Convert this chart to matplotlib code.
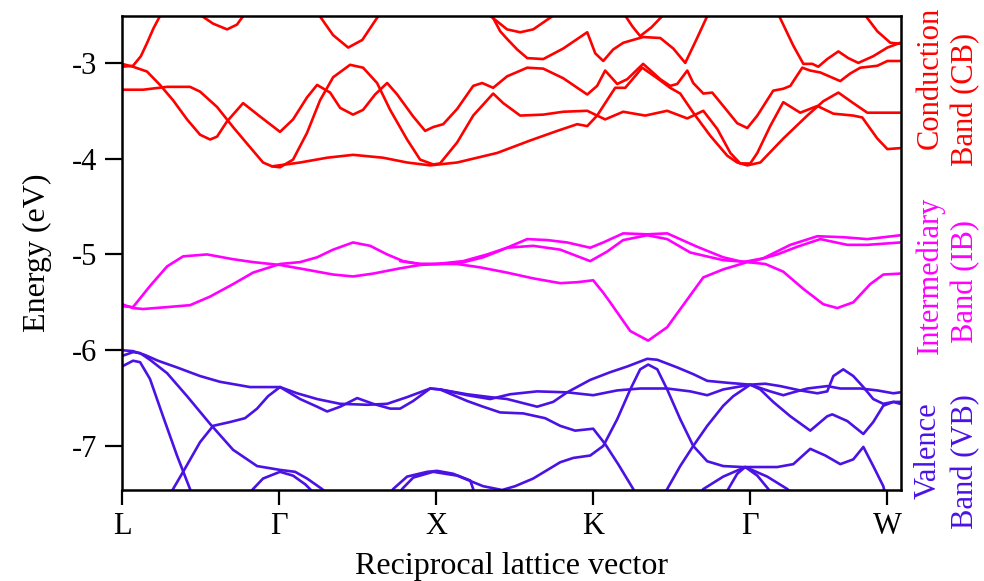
import matplotlib
matplotlib.use("Agg")
import matplotlib.pyplot as plt

plt.rcParams['font.family'] = ['Liberation Serif', 'DejaVu Serif']
plt.rcParams['axes.unicode_minus'] = False

# high-symmetry points along the path
k_ticks = [0, 1, 2, 3, 4, 4.873]
k_labels = ['L', 'Γ', 'X', 'K', 'Γ', 'W']

# ---- conduction band (CB), energies in eV ----
cb_top1_k = [0, 0.07, 0.12, 0.16, 0.2, 0.245]
cb_top1_e = [-3.04, -3.03, -2.93, -2.79, -2.64, -2.5]
cb_top2_k = [0.49, 0.58, 0.669, 0.732, 0.78]
cb_top2_e = [-2.49, -2.59, -2.65, -2.60, -2.49]
cb_top3_k = [1.25, 1.344, 1.44, 1.53, 1.64]
cb_top3_e = [-2.49, -2.71, -2.84, -2.76, -2.49]
cb_top4_k = [2.33, 2.452, 2.535, 2.618, 2.76]
cb_top4_e = [-2.49, -2.65, -2.68, -2.65, -2.49]
cb_top5_k = [2.35, 2.408, 2.452, 2.516, 2.58, 2.682, 2.809, 2.962, 3.013, 3.064,
             3.127, 3.191, 3.318, 3.427, 3.51, 3.586, 3.656, 3.732]
cb_top5_e = [-2.49, -2.67, -2.75, -2.86, -2.95, -2.96, -2.85, -2.68, -2.90, -2.98,
             -2.86, -2.79, -2.73, -2.74, -2.85, -3.0, -2.76, -2.49]
cb_top6_k = [3.197, 3.25, 3.299, 3.37, 3.452]
cb_top6_e = [-2.49, -2.62, -2.72, -2.63, -2.49]
cb_top7_k = [4.178, 4.274, 4.338, 4.395, 4.433, 4.49, 4.561, 4.624, 4.688, 4.783, 4.873, 4.955]
cb_top7_e = [-2.49, -2.82, -3.01, -3.01, -3.04, -2.96, -2.88, -2.95, -3.0, -2.93, -2.84, -2.79]
cb_top8_k = [4.726, 4.809, 4.892, 4.955]
cb_top8_e = [-2.49, -2.67, -2.79, -2.80]

cb_a_k = [0, 0.07, 0.159, 0.242, 0.325, 0.414, 0.497, 0.561, 0.605, 0.669, 0.771, 0.879,
          1.006, 1.089, 1.178, 1.242, 1.325, 1.389, 1.471, 1.535, 1.611, 1.688, 1.752,
          1.854, 1.930, 1.981, 2.045, 2.134, 2.236, 2.293, 2.363, 2.452, 2.580, 2.682,
          2.809, 2.962, 3.025, 3.076, 3.153, 3.217, 3.318, 3.427, 3.490, 3.535, 3.599,
          3.637, 3.701, 3.758, 3.828, 3.917, 3.981, 4.045, 4.146, 4.210, 4.255, 4.331,
          4.382, 4.446, 4.573, 4.637, 4.701, 4.809, 4.873, 4.955]
cb_a_e = [-3.01, -3.04, -3.09, -3.23, -3.39, -3.59, -3.75, -3.80, -3.77, -3.61, -3.42, -3.56,
          -3.72, -3.59, -3.36, -3.23, -3.31, -3.47, -3.54, -3.49, -3.33, -3.21, -3.33,
          -3.56, -3.71, -3.67, -3.64, -3.48, -3.24, -3.21, -3.26, -3.14, -3.05, -3.06,
          -3.16, -3.33, -3.24, -3.08, -3.22, -3.17, -3.01, -3.17, -3.24, -3.22, -3.08,
          -3.21, -3.32, -3.31, -3.45, -3.63, -3.68, -3.55, -3.29, -3.27, -3.24, -3.05,
          -3.08, -3.10, -3.19, -3.11, -3.05, -3.03, -2.98, -2.98]

cb_b_k = [0, 0.134, 0.287, 0.433, 0.497, 0.605, 0.707, 0.815, 0.898, 0.955, 1.006, 1.089,
          1.178, 1.261, 1.344, 1.452, 1.535, 1.624, 1.707, 1.815, 1.898, 1.981, 2.025,
          2.134, 2.236, 2.363, 2.427, 2.535, 2.682, 2.809, 2.962, 3.025, 3.076, 3.191,
          3.331, 3.471, 3.599, 3.701, 3.790, 3.873, 3.936, 4.0, 4.045, 4.127, 4.210,
          4.318, 4.427, 4.529, 4.656, 4.713, 4.809, 4.873, 4.955]
cb_b_e = [-3.28, -3.28, -3.25, -3.25, -3.30, -3.46, -3.67, -3.88, -4.04, -4.08, -4.09, -4.01,
          -3.73, -3.39, -3.15, -3.02, -3.05, -3.21, -3.49, -3.80, -4.01, -4.06, -4.05,
          -3.83, -3.55, -3.32, -3.42, -3.55, -3.54, -3.51, -3.50, -3.55, -3.59, -3.51,
          -3.55, -3.50, -3.58, -3.50, -3.69, -3.94, -4.05, -4.05, -3.94, -3.66, -3.41,
          -3.52, -3.45, -3.53, -3.55, -3.57, -3.79, -3.90, -3.89]

cb_c_k = [0.955, 1.134, 1.306, 1.471, 1.662, 1.815, 1.962, 2.134, 2.389, 2.599, 2.771,
          2.898, 2.962, 3.025, 3.108, 3.140, 3.204, 3.312, 3.408, 3.490, 3.554, 3.637,
          3.745, 3.854, 3.917, 3.981, 4.064, 4.210, 4.363, 4.465, 4.561, 4.656, 4.745,
          4.847, 4.955]
cb_c_e = [-4.08, -4.04, -3.99, -3.96, -3.99, -4.04, -4.07, -4.04, -3.94, -3.81, -3.71,
          -3.64, -3.66, -3.55, -3.34, -3.26, -3.26, -3.05, -3.16, -3.26, -3.32, -3.52,
          -3.76, -3.97, -4.04, -4.07, -4.04, -3.79, -3.55, -3.40, -3.31, -3.42, -3.52,
          -3.52, -3.52]

# ---- intermediary band (IB) ----
ib_a_k = [0, 0.07, 0.178, 0.287, 0.389, 0.541, 0.707, 0.834, 1.006, 1.178, 1.344, 1.471,
          1.599, 1.771, 1.898, 2.0, 2.134, 2.280, 2.452, 2.618, 2.790, 2.898, 3.0, 3.064,
          3.108, 3.236, 3.350, 3.471, 3.599, 3.701, 3.828, 3.981, 4.096, 4.210, 4.338,
          4.465, 4.554, 4.656, 4.764, 4.847, 4.955]
ib_a_e = [-5.54, -5.55, -5.33, -5.125, -5.02, -5.0, -5.05, -5.08, -5.11, -5.16, -5.21, -5.23,
          -5.20, -5.145, -5.11, -5.10, -5.10, -5.135, -5.19, -5.25, -5.30, -5.29, -5.27, -5.40,
          -5.50, -5.80, -5.90, -5.76, -5.47, -5.24, -5.156, -5.08, -5.10, -5.18, -5.36,
          -5.52, -5.56, -5.50, -5.31, -5.21, -5.20]
ib_b_k = [0, 0.07, 0.134, 0.287, 0.433, 0.561, 0.707, 0.834, 1.006, 1.134, 1.242, 1.344,
          1.471, 1.580, 1.688, 1.790, 1.898, 2.0, 2.153, 2.299, 2.408, 2.580, 2.707, 2.834,
          2.981, 3.064, 3.191, 3.344, 3.471, 3.662, 3.828, 3.955, 4.083, 4.255, 4.427,
          4.592, 4.745, 4.955]
ib_b_e = [-5.52, -5.56, -5.57, -5.55, -5.53, -5.44, -5.31, -5.19, -5.10, -5.08, -5.03, -4.95,
          -4.875, -4.91, -5.0, -5.07, -5.10, -5.10, -5.09, -5.03, -4.96, -4.84, -4.85, -4.875,
          -4.93, -4.875, -4.78, -4.79, -4.78, -4.92, -5.03, -5.08, -5.04, -4.90, -4.81,
          -4.82, -4.84, -4.80]
ib_c_k = [1.771, 1.898, 2.0, 2.172, 2.325, 2.452, 2.618, 2.790, 2.981, 3.089, 3.191, 3.344,
          3.471, 3.618, 3.828, 4.0, 4.172, 4.299, 4.446, 4.618, 4.745, 4.955]
ib_c_e = [-5.07, -5.10, -5.10, -5.07, -5.0, -4.93, -4.91, -4.95, -5.07, -4.97, -4.85, -4.80,
          -4.84, -4.98, -5.06, -5.08, -5.0, -4.92, -4.84, -4.90, -4.90, -4.875]

# ---- valence band (VB) ----
vb_1_k = [0, 0.07, 0.146, 0.229, 0.350, 0.497, 0.624, 0.815, 1.006, 1.115, 1.242, 1.389,
          1.561, 1.688, 1.815, 1.962, 2.025, 2.197, 2.344, 2.452, 2.643, 2.745, 2.834,
          2.981, 3.108, 3.217, 3.344, 3.408, 3.535, 3.637, 3.726, 3.854, 4.0, 4.127,
          4.210, 4.274, 4.363, 4.490, 4.573, 4.701, 4.809, 4.911, 4.955]
vb_1_e = [-6.0, -6.01, -6.05, -6.11, -6.18, -6.27, -6.33, -6.385, -6.385, -6.45, -6.51, -6.56,
          -6.57, -6.56, -6.49, -6.40, -6.41, -6.46, -6.49, -6.51, -6.59, -6.54, -6.44,
          -6.31, -6.23, -6.17, -6.09, -6.10, -6.18, -6.25, -6.32, -6.34, -6.36, -6.43,
          -6.47, -6.44, -6.40, -6.375, -6.40, -6.40, -6.42, -6.45, -6.44]
vb_2_k = [1.006, 1.134, 1.242, 1.306, 1.389, 1.497, 1.599, 1.707, 1.771, 1.854, 1.962,
          2.025, 2.197, 2.344, 2.471, 2.643, 2.834, 3.0, 3.153, 3.299, 3.471, 3.618, 3.726,
          3.828, 4.0, 4.096, 4.191, 4.318, 4.427, 4.490, 4.529, 4.592, 4.656, 4.720,
          4.783, 4.847, 4.911, 4.955]
vb_2_e = [-6.385, -6.51, -6.59, -6.64, -6.59, -6.50, -6.56, -6.61, -6.61, -6.53, -6.40,
          -6.41, -6.47, -6.51, -6.46, -6.43, -6.44, -6.47, -6.42, -6.40, -6.40, -6.43, -6.47,
          -6.41, -6.36, -6.35, -6.375, -6.42, -6.45, -6.43, -6.27, -6.20, -6.27, -6.385,
          -6.51, -6.56, -6.54, -6.56]
vb_3_k = [2.025, 2.197, 2.299, 2.408, 2.554, 2.694, 2.790, 2.885, 3.0, 3.076, 3.159, 3.255, 3.274]
vb_3_e = [-6.41, -6.53, -6.59, -6.65, -6.66, -6.71, -6.79, -6.84, -6.82, -6.98, -7.19, -7.45, -7.51]
vb_4_k = [1.764, 1.783, 1.854, 1.981, 2.134, 2.299, 2.420, 2.503, 2.618, 2.790, 2.873, 2.981,
          3.064, 3.153, 3.236, 3.299, 3.350, 3.408, 3.471, 3.554, 3.637, 3.726, 3.828,
          3.949, 4.064, 4.172, 4.274, 4.382, 4.478, 4.573, 4.656, 4.720, 4.783, 4.847, 4.860]
vb_4_e = [-7.51, -7.45, -7.33, -7.27, -7.31, -7.42, -7.46, -7.42, -7.34, -7.17, -7.125, -7.10,
          -7.0, -6.72, -6.41, -6.20, -6.15, -6.20, -6.41, -6.72, -7.0, -7.16, -7.21,
          -7.22, -7.22, -7.22, -7.19, -7.03, -7.10, -7.19, -7.14, -7.01, -7.21, -7.42, -7.51]
vb_5_k = [3.452, 3.471, 3.554, 3.637, 3.726, 3.828, 3.892, 4.0, 4.064, 4.146, 4.255, 4.382,
          4.490, 4.522, 4.618, 4.720, 4.783, 4.847, 4.911, 4.955]
vb_5_e = [-7.51, -7.45, -7.21, -7.0, -6.79, -6.58, -6.48, -6.36, -6.41, -6.54, -6.69, -6.84,
          -6.69, -6.67, -6.74, -6.875, -6.75, -6.58, -6.54, -6.54]
vb_d1_k = [0, 0.07, 0.115, 0.178, 0.287, 0.414, 0.561, 0.707, 0.860, 1.006, 1.102, 1.178, 1.274, 1.312]
vb_d1_e = [-6.06, -6.02, -6.03, -6.10, -6.24, -6.48, -6.77, -7.04, -7.21, -7.25, -7.27, -7.34, -7.45, -7.51]
vb_d2_k = [0, 0.07, 0.115, 0.178, 0.261, 0.350, 0.433, 0.446]
vb_d2_e = [-6.17, -6.11, -6.125, -6.30, -6.69, -7.10, -7.45, -7.51]
vb_u_k = [0.312, 0.325, 0.389, 0.497, 0.580, 0.688, 0.783, 0.860, 0.930, 1.006]
vb_u_e = [-7.51, -7.45, -7.27, -6.96, -6.79, -6.75, -6.71, -6.61, -6.48, -6.385]
vb_g1_k = [0.815, 0.834, 0.898, 1.006, 1.089, 1.166, 1.197, 1.217]
vb_g1_e = [-7.49, -7.45, -7.34, -7.27, -7.31, -7.40, -7.45, -7.49]
vb_x1_k = [1.707, 1.726, 1.815, 1.943, 2.006, 2.108, 2.217, 2.236, 2.248]
vb_x1_e = [-7.51, -7.45, -7.32, -7.27, -7.26, -7.29, -7.36, -7.45, -7.51]
vb_g2a_k = [3.682, 3.701, 3.828, 3.968, 4.108, 4.236, 4.261]
vb_g2a_e = [-7.49, -7.45, -7.32, -7.22, -7.32, -7.45, -7.49]
vb_g2b_k = [3.847, 3.860, 3.917, 3.968, 4.045, 4.115, 4.134]
vb_g2b_e = [-7.49, -7.45, -7.29, -7.22, -7.31, -7.45, -7.49]

cb_color = '#ff0000'
ib_color = '#ff00ff'
vb_color = '#4b12e4'

cb_bands = [(cb_top1_k, cb_top1_e), (cb_top2_k, cb_top2_e), (cb_top3_k, cb_top3_e),
            (cb_top4_k, cb_top4_e), (cb_top5_k, cb_top5_e), (cb_top6_k, cb_top6_e),
            (cb_top7_k, cb_top7_e), (cb_top8_k, cb_top8_e),
            (cb_a_k, cb_a_e), (cb_b_k, cb_b_e), (cb_c_k, cb_c_e)]
ib_bands = [(ib_a_k, ib_a_e), (ib_b_k, ib_b_e), (ib_c_k, ib_c_e)]
vb_bands = [(vb_1_k, vb_1_e), (vb_2_k, vb_2_e), (vb_3_k, vb_3_e), (vb_4_k, vb_4_e),
            (vb_5_k, vb_5_e), (vb_d1_k, vb_d1_e), (vb_d2_k, vb_d2_e), (vb_u_k, vb_u_e),
            (vb_g1_k, vb_g1_e), (vb_x1_k, vb_x1_e), (vb_g2a_k, vb_g2a_e), (vb_g2b_k, vb_g2b_e)]

fig = plt.figure(figsize=(9.84, 5.81), dpi=100)
ax = fig.add_axes([0.124, 0.1566, 0.7917, 0.8159])

for bands, col in [(cb_bands, cb_color), (ib_bands, ib_color), (vb_bands, vb_color)]:
    for k, e in bands:
        ax.plot(k, e, color=col, lw=1.9, solid_joinstyle='round', solid_capstyle='round')

ax.set_xlim(0, 4.96)
ax.set_ylim(-7.46, -2.51)
ax.set_xticks(k_ticks)
ax.set_xticklabels(k_labels)
ax.set_yticks([-7, -6, -5, -4, -3])
ax.set_yticklabels(['-7', '-6', '-5', '-4', '-3'])
ax.tick_params(axis='y', direction='out', length=12, width=1.6, labelsize=22, pad=6)
ax.tick_params(axis='x', direction='out', length=11, width=1.6, labelsize=22, pad=5)
for s in ax.spines.values():
    s.set_linewidth(1.8)

ax.set_xlabel('Reciprocal lattice vector', fontsize=23, labelpad=8)
ax.set_ylabel('Energy (eV)', fontsize=23, labelpad=14)

# band labels on the right
lab = dict(fontsize=22, rotation=90, ha='center', va='center')
fig.text(0.945, 0.866, 'Conduction', color=cb_color, **lab)
fig.text(0.981, 0.828, 'Band (CB)', color=cb_color, **lab)
fig.text(0.945, 0.527, 'Intermediary', color=ib_color, **lab)
fig.text(0.981, 0.515, 'Band (IB)', color=ib_color, **lab)
fig.text(0.943, 0.225, 'Valence', color=vb_color, **lab)
fig.text(0.981, 0.205, 'Band (VB)', color=vb_color, **lab)

fig.savefig('out.png', dpi=100)
